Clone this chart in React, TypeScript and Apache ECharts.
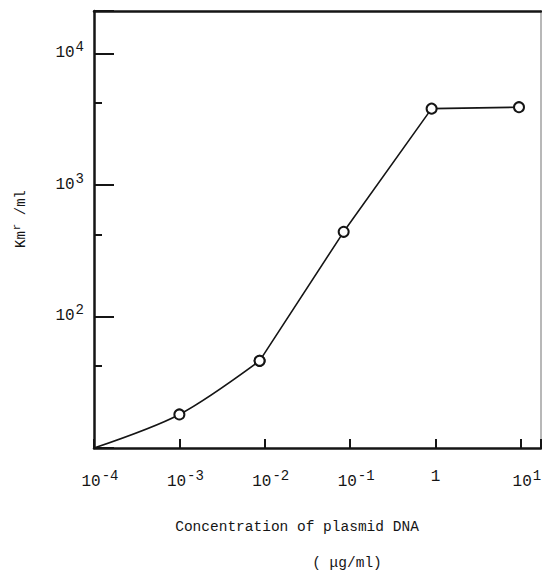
import React, { useEffect, useRef } from 'react';
import * as echarts from 'echarts';

// Transformation frequency versus plasmid DNA concentration
const concentration = [1e-4, 1e-3, 0.0087, 0.084, 0.9, 9.5];
const kmPerMl = [10, 18, 46, 440, 3800, 3900];
const showMarker = [false, true, true, true, true, true];
// the low-concentration part of the curve is drawn smoothed, the rest straight
const smoothEnd = 2;

const xTickExponents = [-4, -3, -2, -1, 0, 1];
const yTickExponents = [2, 3, 4];
const yMinorTicks = [42, 420, 4200];

const xTitle = 'Concentration of plasmid DNA';
const xUnit = '( μg/ml)';

const FONT = '"Liberation Mono", "DejaVu Sans Mono", monospace';
const INK = '#151515';

// labels only on exact powers of ten listed in the tick arrays
const powerLabel = (v: number, exps: number[]) => {
  const l = Math.log10(v);
  const e = Math.round(l);
  if (Math.abs(l - e) > 1e-6 || !exps.includes(e)) return '';
  if (e === 0) return '{one|1}';
  return `{b|10}{s|${e}}`;
};

const rich = {
  b: { fontFamily: FONT, fontSize: 16, color: INK, padding: [0, 0, 0, 12] },
  one: { fontFamily: FONT, fontSize: 16, color: INK },
  s: { fontFamily: FONT, fontSize: 14, color: INK, padding: [0, 0, 12, 1] },
};

const points = concentration.map((c, i) => ({
  value: [c, kmPerMl[i]],
  symbol: showMarker[i] ? 'circle' : 'none',
}));

export default function App() {
  const ref = useRef<HTMLDivElement>(null);

  useEffect(() => {
    if (!ref.current) return;
    const chart = echarts.init(ref.current, null, { renderer: 'svg' });

    const lineSeries = (data: any[], smooth: number | boolean) => ({
      type: 'line',
      xAxisIndex: 0,
      yAxisIndex: 0,
      data,
      smooth,
      symbolSize: 10,
      itemStyle: { color: '#fff', borderColor: INK, borderWidth: 2 },
      lineStyle: { color: INK, width: 1.6 },
      z: 3,
    });

    chart.setOption({
      animation: false,
      backgroundColor: '#fff',
      grid: {
        left: 94,
        right: 1,
        top: 11,
        bottom: 125,
        containLabel: false,
        outerBoundsMode: 'none',
      },
      xAxis: [
        {
          type: 'log',
          logBase: 10,
          min: 1e-4,
          max: 17.2,
          position: 'bottom',
          axisLine: { show: true, onZero: false, lineStyle: { color: INK, width: 2.5 } },
          axisTick: { show: true, inside: true, length: 9, lineStyle: { color: INK, width: 2 } },
          minorTick: { show: false },
          splitLine: { show: false },
          axisLabel: {
            interval: 0,
            margin: 21,
            hideOverlap: false,
            formatter: (v: number) => powerLabel(v, xTickExponents),
            rich,
          },
        },
        {
          type: 'log',
          logBase: 10,
          min: 1e-4,
          max: 17.2,
          position: 'top',
          axisLine: { show: true, lineStyle: { color: INK, width: 2.5 } },
          axisTick: { show: false },
          axisLabel: { show: false },
          splitLine: { show: false },
        },
      ],
      yAxis: [
        {
          type: 'log',
          logBase: 10,
          min: 10,
          max: 21000,
          position: 'left',
          axisLine: { show: true, onZero: false, lineStyle: { color: INK, width: 2.5 } },
          axisTick: { show: true, inside: true, length: 20, lineStyle: { color: INK, width: 2 } },
          minorTick: { show: false },
          splitLine: { show: false },
          axisLabel: {
            margin: 10,
            formatter: (v: number) => powerLabel(v, yTickExponents),
            rich,
          },
        },
        {
          type: 'log',
          logBase: 10,
          min: 10,
          max: 21000,
          position: 'left',
          axisLine: { show: false },
          axisTick: {
            show: true,
            inside: true,
            length: 8,
            customValues: yMinorTicks,
            lineStyle: { color: INK, width: 2 },
          },
          axisLabel: { show: false },
          splitLine: { show: false },
        },
        {
          type: 'log',
          logBase: 10,
          min: 10,
          max: 21000,
          position: 'right',
          axisLine: { show: true, lineStyle: { color: '#b8b8b8', width: 2 } },
          axisTick: { show: false },
          axisLabel: { show: false },
          splitLine: { show: false },
        },
      ],
      series: [
        lineSeries(points.slice(0, smoothEnd + 1), 0.3),
        lineSeries(points.slice(smoothEnd), false),
      ],
      graphic: [
        {
          type: 'text',
          x: 21,
          y: 219,
          rotation: Math.PI / 2,
          style: {
            text: '{b|Km}{s|r}{b| /ml}',
            align: 'center',
            verticalAlign: 'middle',
            rich: {
              b: { fontFamily: FONT, fontSize: 14, fill: INK },
              s: { fontFamily: FONT, fontSize: 11, fill: INK, padding: [0, 0, 9, 1] },
            },
          },
        },
        {
          type: 'text',
          x: 297,
          y: 527,
          style: {
            text: xTitle,
            font: `14.5px ${FONT}`,
            fill: INK,
            align: 'center',
            verticalAlign: 'middle',
          },
        },
        {
          type: 'text',
          x: 347,
          y: 563,
          style: {
            text: xUnit,
            font: `14.5px ${FONT}`,
            fill: INK,
            align: 'center',
            verticalAlign: 'middle',
          },
        },
      ],
    });

    return () => chart.dispose();
  }, []);

  return <div ref={ref} style={{ width: 542, height: 573, position: 'absolute', left: 0, top: 0 }} />;
}
